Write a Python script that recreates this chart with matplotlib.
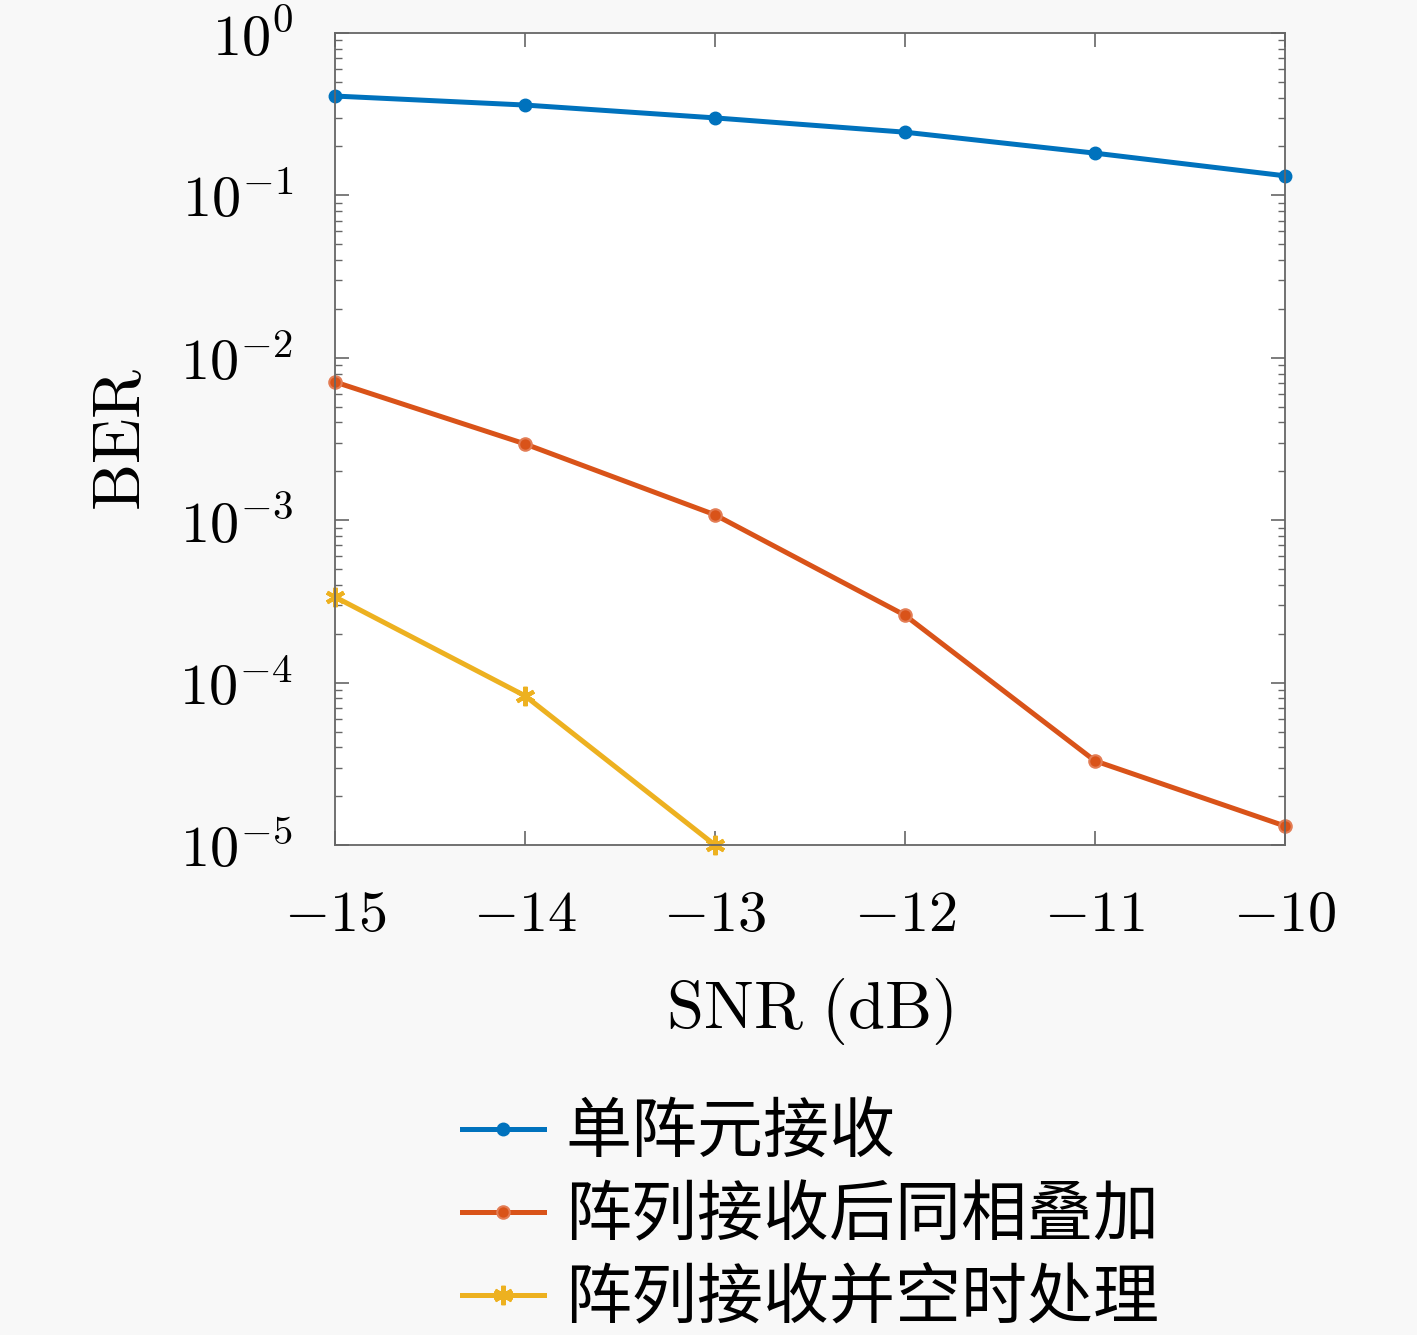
import numpy as np
import matplotlib.pyplot as plt
from matplotlib.ticker import LogLocator, FixedLocator, NullFormatter

plt.rcParams['mathtext.fontset'] = 'cm'
plt.rcParams['font.family'] = ['DejaVu Serif']

snr = [-15, -14, -13, -12, -11, -10]
ber_single = [0.409, 0.36, 0.30, 0.245, 0.182, 0.132]
ber_coherent = [7.1e-3, 2.95e-3, 1.08e-3, 2.6e-4, 3.3e-5, 1.31e-5]
snr_stap = [-15, -14, -13]
ber_stap = [3.37e-4, 8.3e-5, 1.0e-5]

labels = ["单阵元接收", "阵列接收后同相叠加", "阵列接收并空时处理"]
xticks = [-15, -14, -13, -12, -11, -10]
yticks = [1e-5, 1e-4, 1e-3, 1e-2, 1e-1, 1e0]

bg = "#f8f8f8"
fig = plt.figure(figsize=(14.17, 13.35), dpi=100, facecolor=bg)
ax = fig.add_axes([0.2364, 0.367, 0.6704, 0.6083])
ax.set_facecolor("white")

l1, = ax.semilogy(snr, ber_single, color="#0072BD", lw=3.6, marker="o", ms=9, clip_on=False)
l2, = ax.semilogy(snr, ber_coherent, color="#D95319", lw=3.6, marker="o", ms=9,
                  mfc="#D95319", mec="#e37d55", mew=1.5, clip_on=False)
l3, = ax.semilogy(snr_stap, ber_stap, color="#EDB120", lw=3.6, marker=(6, 2, 0), ms=14,
                  mec="#EDB120", mew=3, clip_on=False)

ax.set_xlim(-15, -10)
ax.set_ylim(1e-5, 1e0)
ax.set_xticks(xticks)
ax.set_xticklabels([r"$%d$" % v for v in xticks])
ax.yaxis.set_major_locator(FixedLocator(yticks))
ax.set_yticklabels([r"$10^{%d}$" % int(np.log10(v)) for v in yticks])
ax.yaxis.set_minor_locator(LogLocator(base=10, subs=np.arange(2, 10)))
ax.yaxis.set_minor_formatter(NullFormatter())

ax.tick_params(axis="both", which="both", direction="in", top=True, right=True,
               colors="#666666", labelcolor="black", labelsize=42)
ax.tick_params(axis="x", which="major", length=10, width=1.2, pad=30)
ax.tick_params(axis="y", which="major", length=10, width=1.2, pad=30)
ax.tick_params(axis="y", which="minor", length=5, width=1.0)
for s in ax.spines.values():
    s.set_color("#666666")
    s.set_linewidth(1.3)

ax.set_xlabel(r"$\mathrm{SNR\ (dB)}$", fontsize=48, labelpad=24)
ax.set_ylabel(r"$\mathrm{BER}$", fontsize=48, labelpad=18)

leg = fig.legend([l1, l2, l3], labels, loc="center", bbox_to_anchor=(0.572, 0.089),
                 frameon=False, prop={"family": ["Noto Sans CJK SC", "DejaVu Sans"], "size": 47.5},
                 handlelength=1.25, handletextpad=0.32, labelspacing=0.23)

fig.savefig("out.png", dpi=100, facecolor=bg)
